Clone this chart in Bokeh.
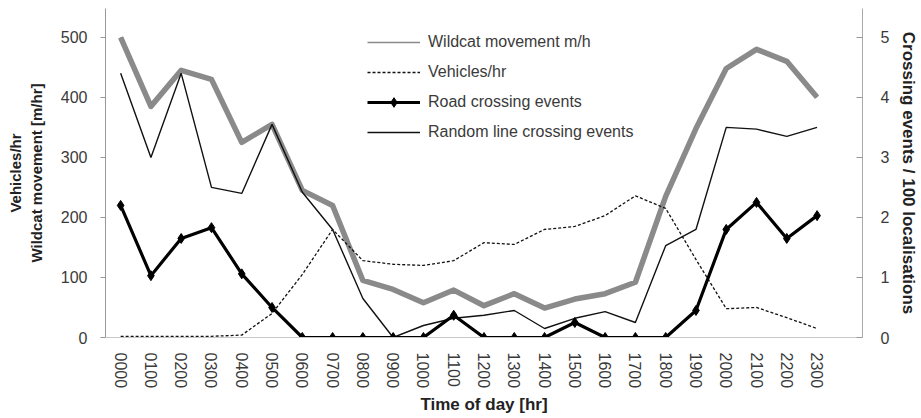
from bokeh.plotting import figure
from bokeh.models import Range1d, LinearAxis, Legend, LegendItem, FixedTicker, ColumnDataSource
from bokeh.embed import file_html
from bokeh.resources import INLINE

hours = ["0000", "0100", "0200", "0300", "0400", "0500", "0600", "0700",
         "0800", "0900", "1000", "1100", "1200", "1300", "1400", "1500",
         "1600", "1700", "1800", "1900", "2000", "2100", "2200", "2300"]
wildcat_m_per_hr = [500, 385, 445, 430, 325, 355, 245, 220, 95, 80, 58, 79,
                    53, 73, 49, 64, 73, 92, 235, 348, 448, 480, 460, 400]
vehicles_per_hr = [2, 2, 2, 2, 4, 40, 105, 180, 128, 122, 120, 128,
                   158, 155, 180, 185, 203, 236, 215, 130, 48, 50, 33, 15]
road_crossings = [2.2, 1.03, 1.65, 1.83, 1.06, 0.5, 0, 0, 0, 0, 0, 0.37,
                  0, 0, 0, 0.25, 0, 0, 0, 0.45, 1.8, 2.25, 1.65, 2.03]
random_line_crossings = [4.4, 3.0, 4.4, 2.5, 2.4, 3.55, 2.42, 1.8, 0.65, 0, 0.2, 0.32,
                         0.37, 0.45, 0.15, 0.32, 0.43, 0.25, 1.53, 1.8, 3.5, 3.47, 3.35, 3.5]
left_ticks = [0, 100, 200, 300, 400, 500]
right_ticks = [0, 1, 2, 3, 4, 5]

x = list(range(len(hours)))
src = ColumnDataSource(dict(x=x, wild=wildcat_m_per_hr, veh=vehicles_per_hr,
                            road=road_crossings, rnd=random_line_crossings))

FONT = "Liberation Sans"

p = figure(width=921, height=418, output_backend="svg", toolbar_location=None,
           x_range=Range1d(-0.5, 24.5), y_range=Range1d(0, 548),
           min_border_left=105, min_border_right=54, min_border_top=8, min_border_bottom=81)
p.extra_y_ranges = {"events": Range1d(0, 5.48)}
p.xgrid.visible = False
p.ygrid.visible = False
p.outline_line_color = None
p.background_fill_color = "white"

# thin swatch used for the legend entry (hidden beneath the thick line)
r_wild_leg = p.line("x", "wild", source=src, line_color="#8a8a8a", line_width=1.5)
r_wild = p.line("x", "wild", source=src, line_color="#8a8a8a", line_width=5.5, line_join="round")
r_veh = p.line("x", "veh", source=src, line_color="#111111", line_width=1.3, line_dash="3 2")
r_rnd = p.line("x", "rnd", source=src, y_range_name="events", line_color="#111111", line_width=1.4)
r_road = p.line("x", "road", source=src, y_range_name="events", line_color="#000000", line_width=3.2)
r_road_pts = p.scatter("x", "road", source=src, y_range_name="events", marker="diamond",
                       size=10, fill_color="#000000", line_color="#000000")

legend = Legend(items=[
    LegendItem(label="Wildcat movement m/h", renderers=[r_wild_leg]),
    LegendItem(label="Vehicles/hr", renderers=[r_veh]),
    LegendItem(label="Road crossing events", renderers=[r_road, r_road_pts]),
    LegendItem(label="Random line crossing events", renderers=[r_rnd]),
], location=(262, 193), glyph_width=53, glyph_height=24, label_height=24, spacing=6,
    padding=5, margin=0, label_standoff=8, border_line_color=None,
    background_fill_alpha=0, label_text_font=FONT, label_text_font_size="16px",
    label_text_color="#3a3a3a")
p.add_layout(legend, "center")

# axes
xa = p.xaxis[0]
xa.ticker = FixedTicker(ticks=x)
xa.major_label_overrides = {i: h for i, h in enumerate(hours)}
xa.major_label_orientation = "vertical"
xa.major_tick_line_color = None
xa.major_tick_out = 0
xa.major_tick_in = 0
xa.minor_tick_line_color = None
xa.axis_line_color = "#c8c8c8"
xa.major_label_standoff = 15
xa.major_label_text_font = FONT
xa.major_label_text_font_size = "16px"
xa.major_label_text_color = "#3a3a3a"
xa.axis_label = "Time of day [hr]"
xa.axis_label_text_font = FONT
xa.axis_label_text_font_size = "17px"
xa.axis_label_text_font_style = "bold"
xa.axis_label_text_color = "#222222"
xa.axis_label_standoff = 4

ya = p.yaxis[0]
ya.ticker = FixedTicker(ticks=left_ticks)
ya.minor_tick_line_color = None
ya.major_tick_out = 5
ya.major_tick_in = 0
ya.major_tick_line_color = "#999999"
ya.axis_line_color = "#999999"
ya.major_label_standoff = 13
ya.major_label_text_font = FONT
ya.major_label_text_font_size = "16px"
ya.major_label_text_color = "#3a3a3a"
ya.axis_label = "Vehicles/hr\nWildcat movement [m/hr]"
ya.axis_label_text_font = FONT
ya.axis_label_text_font_size = "15px"
ya.axis_label_text_font_style = "bold"
ya.axis_label_text_color = "#222222"
ya.axis_label_standoff = 13

ra = LinearAxis(y_range_name="events", ticker=FixedTicker(ticks=right_ticks))
ra.minor_tick_line_color = None
ra.major_tick_out = 0
ra.major_tick_in = 6
ra.major_tick_line_color = "#999999"
ra.axis_line_color = "#aaaaaa"
ra.major_label_standoff = 18
ra.major_label_text_font = FONT
ra.major_label_text_font_size = "16px"
ra.major_label_text_color = "#3a3a3a"
ra.axis_label = "Crossing events / 100 localisations"
ra.axis_label_text_font = FONT
ra.axis_label_text_font_size = "17px"
ra.axis_label_text_font_style = "bold"
ra.axis_label_text_color = "#222222"
ra.axis_label_standoff = 7
p.add_layout(ra, "right")

open("out.html", "w").write(file_html(p, INLINE))
